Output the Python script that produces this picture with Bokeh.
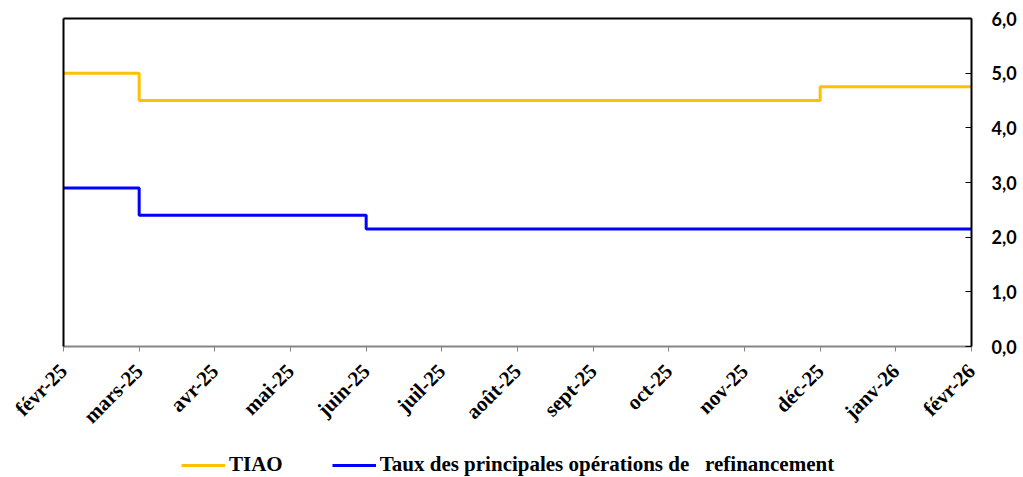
from bokeh.plotting import figure
from bokeh.layouts import column
from bokeh.models import (Range1d, LinearAxis, FixedTicker, Legend, LegendItem)
from bokeh.embed import file_html
from bokeh.resources import INLINE
import math

months = ["févr-25", "mars-25", "avr-25", "mai-25", "juin-25", "juil-25", "août-25",
          "sept-25", "oct-25", "nov-25", "déc-25", "janv-26", "févr-26"]
tiao = [5.0, 4.5, 4.5, 4.5, 4.5, 4.5, 4.5, 4.5, 4.5, 4.5, 4.75, 4.75, 4.75]
mro = [2.90, 2.40, 2.40, 2.40, 2.15, 2.15, 2.15, 2.15, 2.15, 2.15, 2.15, 2.15, 2.15]
y_ticks = [0, 1, 2, 3, 4, 5, 6]
y_labels = ["0,0", "1,0", "2,0", "3,0", "4,0", "5,0", "6,0"]
series_names = ["TIAO", "Taux des principales opérations de   refinancement"]
series_colors = ["#FFC000", "#0000FF"]

idx = list(range(len(months)))

p = figure(frame_width=908, frame_height=328, output_backend="svg", toolbar_location=None,
           x_range=Range1d(0, len(months) - 1), y_range=Range1d(0, 6),
           y_axis_location=None, min_border_left=63, min_border_top=18, min_border_right=0,
           min_border_bottom=0)
p.background_fill_color = "white"
p.border_fill_color = "white"
p.xgrid.grid_line_color = None
p.ygrid.grid_line_color = None
p.outline_line_color = None

xa = p.xaxis[0]
xa.ticker = FixedTicker(ticks=idx)
xa.major_label_overrides = {i: m for i, m in zip(idx, months)}
xa.major_label_orientation = math.pi / 4
xa.major_label_text_font = "Liberation Serif"
xa.major_label_text_font_style = "bold"
xa.major_label_text_font_size = "21px"
xa.major_label_text_color = "black"
xa.axis_line_color = "#868686"
xa.axis_line_width = 2
xa.major_tick_line_color = "#868686"
xa.major_tick_in = 0
xa.major_tick_out = 5
xa.minor_tick_line_color = None
xa.major_label_standoff = 16

# plain black spines on the left and top
for loc in ("left", "above"):
    sp = LinearAxis(ticker=FixedTicker(ticks=[]), axis_line_color="black", axis_line_width=2,
                    major_tick_line_color=None, minor_tick_line_color=None)
    p.add_layout(sp, loc)

ya = LinearAxis(ticker=FixedTicker(ticks=y_ticks),
                major_label_overrides={t: l for t, l in zip(y_ticks, y_labels)})
ya.major_label_text_font = "Lato"
ya.major_label_text_font_style = "bold"
ya.major_label_text_font_size = "18px"
ya.major_label_text_color = "black"
ya.axis_line_color = "black"
ya.axis_line_width = 2
ya.major_tick_line_color = "black"
ya.major_tick_in = 6
ya.major_tick_out = 0
ya.minor_tick_line_color = None
ya.major_label_standoff = 20
p.add_layout(ya, "right")

p.step(idx, tiao, mode="after", line_color=series_colors[0], line_width=3)
p.step(idx, mro, mode="after", line_color=series_colors[1], line_width=3)

# legend row below the chart (its lines lie outside the small frame, only the legend shows)
lg = figure(width=1018, height=44, output_backend="svg", toolbar_location=None,
            x_range=Range1d(0, 1), y_range=Range1d(0, 1),
            x_axis_location=None, y_axis_location=None, min_border=0)
lg.outline_line_color = None
lg.xgrid.grid_line_color = None
lg.ygrid.grid_line_color = None
lg.background_fill_color = "white"
lg.border_fill_color = "white"
items = []
for name, col in zip(series_names, series_colors):
    r = lg.line(x=[5, 6], y=[5, 5], line_color=col, line_width=3)
    items.append(LegendItem(label=name, renderers=[r]))

legend = Legend(items=items, orientation="horizontal", location=(118, 6))
legend.label_text_font = "Liberation Serif"
legend.label_text_font_style = "bold"
legend.label_text_font_size = "21px"
legend.label_text_color = "black"
legend.border_line_color = None
legend.background_fill_alpha = 0
legend.glyph_width = 44
legend.label_standoff = 4
legend.spacing = 49
legend.padding = 2
legend.margin = 0
lg.add_layout(legend)

layout = column(p, lg, spacing=0)
open("out.html", "w").write(file_html(layout, INLINE))
